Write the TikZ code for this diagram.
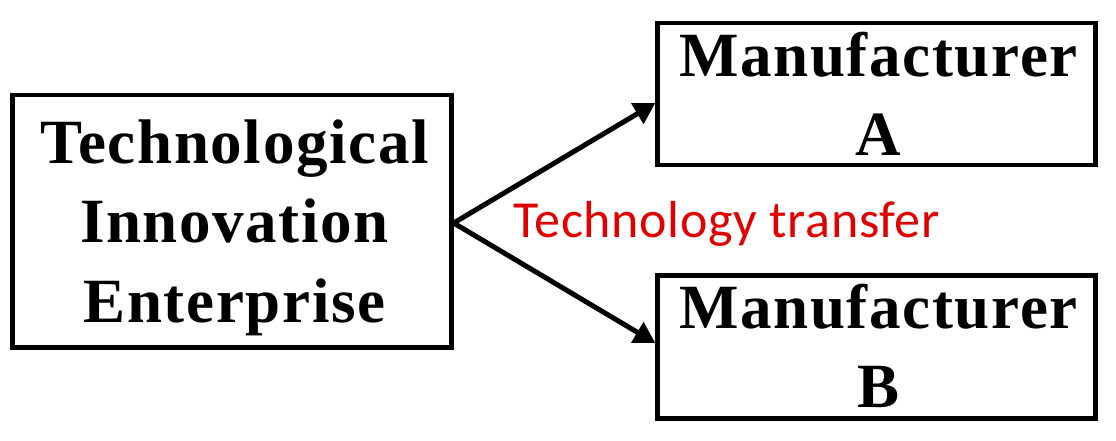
\documentclass[tikz,border=0pt]{standalone}
\usepackage{fontspec}
\setmainfont{Liberation Serif}
\newfontfamily\boxfont[LetterSpace=2.6]{Liberation Serif}
\newfontfamily\carlitofont[LetterSpace=1.3]{Carlito}
\usetikzlibrary{arrows.meta}
\definecolor{txred}{RGB}{224,0,0}
\tikzset{
  box/.style={draw=black, line width=4.3pt, rectangle, inner sep=0pt},
  boxtext/.style={align=center, inner sep=0pt, font=\boxfont\bfseries\fontsize{63}{79.5}\selectfont},
  link/.style={draw=black, line width=5pt, -{Triangle[length=21pt,width=23pt]}},
  lbl/.style={text=txred, inner sep=0pt, font=\carlitofont\fontsize{52}{60}\selectfont}
}
\begin{document}
\begin{tikzpicture}[x=1pt,y=-1pt]
\useasboundingbox (0,0) rectangle (1116,441);
% boxes
\node[box, minimum width=439pt, minimum height=252.5pt] (te) at (232,221.25) {};
\node[box, minimum width=438pt, minimum height=142pt] (ma) at (876.5,94) {};
\node[box, minimum width=438pt, minimum height=143pt] (mb) at (876.5,347) {};
% texts
\node[boxtext] (tetext) at (234.5,227.7) {Technological\\Innovation\\Enterprise};
\node[boxtext] (matext) at (878.5,93.75) {Manufacturer\\A};
\node[boxtext] (mbtext) at (878.5,345.75) {Manufacturer\\B};
% connectors
\draw[link] ([yshift=-1.75pt]te.east) -- ([yshift=-9pt]ma.west);
\draw[link] ([yshift=-1.75pt]te.east) -- ([yshift=4pt]mb.west);
% label
\node[lbl, anchor=base west] (tt) at (513,237) {Technology transfer};
\end{tikzpicture}
\end{document}
